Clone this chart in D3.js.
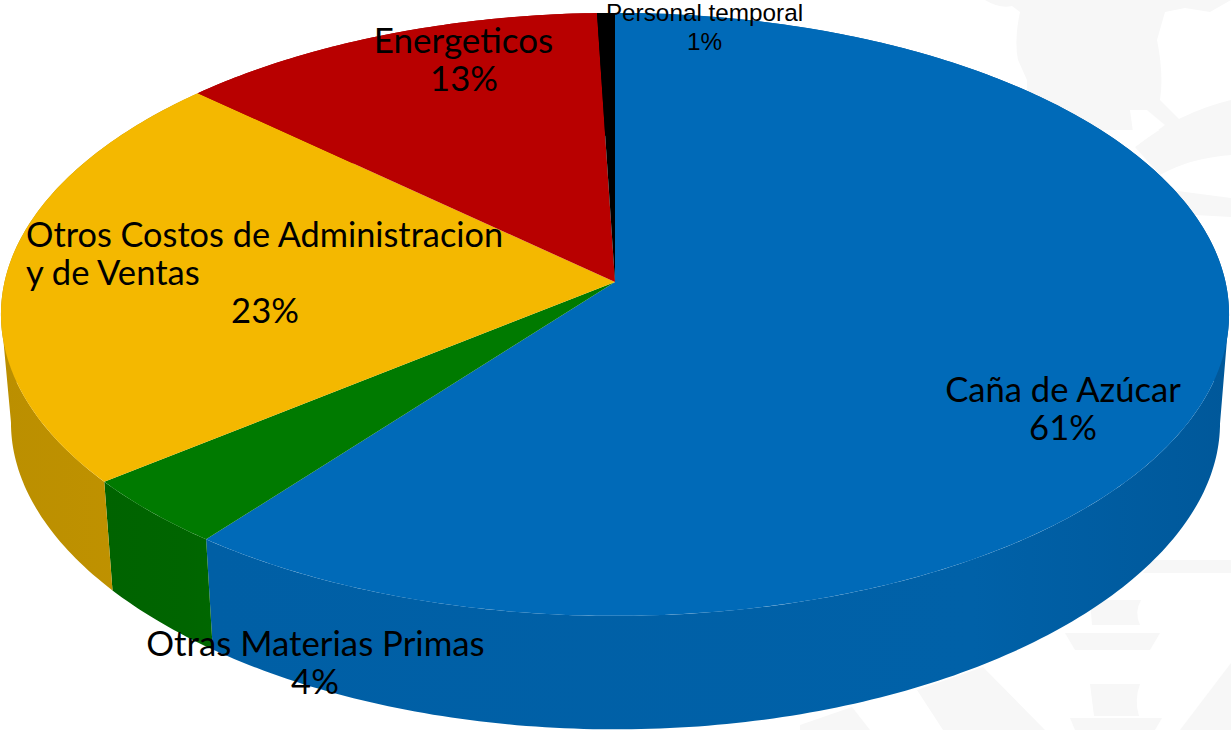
<!DOCTYPE html>
<html><head><meta charset="utf-8">
<script src="https://cdnjs.cloudflare.com/ajax/libs/d3/7.8.5/d3.min.js"></script>
<style>html,body{margin:0;background:#fff}svg{display:block}</style></head>
<body><svg id="c" width="1231" height="730"></svg>
<script>
const categories = ["Caña de Azúcar","Otras Materias Primas","Otros Costos de Administracion y de Ventas","Energeticos","Personal temporal"];
const shares = [60.5,3.75,22.65,12.58,0.52];
const percentLabels = ["61%","4%","23%","13%","1%"];
const topColors = ["#006ab8","#007a00","#f4b800","#b80000","#000000"];
const wallLeft  = ["#005fa5","#006300","#bb8f00","#a00000","#000000"];
const wallMid   = ["#0061a8","#006500","#c09200","#a00000","#000000"];
const wallRight = ["#00589a","#006700","#c89800","#a00000","#000000"];

const svg = d3.select("#c");
const defs = svg.append("defs");
const top3d = {x0:615,y0:282,Rx:610.5,Ry:298,kx:.1074,ky:.1074};
const bot3d = {x0:615.5,y0:391,Rx:601,Ry:291,kx:.108,ky:.14};
const proj = (p,a)=>{const u=Math.sin(a),v=-Math.cos(a);return [p.x0+p.Rx*u/(1-p.kx*v),p.y0+p.Ry*v/(1-p.ky*v)];};
const pie = d3.pie().sort(null).value(d=>d)(shares);
const line = d3.line();
const arcPts=(p,d,n)=>d3.range(n+1).map(i=>proj(p,d.startAngle+(d.endAngle-d.startAngle)*i/n));

// faint watermark behind the pie
const wm = svg.append("g").attr("fill","#f7f7f7");
[
 "M985 0 Q1000 9 1012 6 L1020 12 Q1014 40 1018 60 L1027 80 L1027 130 L1165 130 L1185 125 L1160 100 Q1164 75 1157 40 L1165 12 L1185 8 L1210 12 L1231 0 Z",
 "M1135 147 Q1180 112 1231 100 L1231 155 Q1190 158 1160 175 Z",
 "M1170 190 L1231 198 L1231 217 L1195 215 Z",
 "M1153 560 L1231 560 L1231 573 L1143 573 Z",
 "M1090 600 L1141 600 Q1134 612 1140 625 L1092 625 Z",
 "M1065 633 L1160 633 L1150 650 L1075 650 Z",
 "M1090 684 L1140 684 Q1134 700 1139 716 L1094 716 Z",
 "M1070 718 L1162 718 L1155 730 L1075 730 Z",
 "M917 690 L983 667 L1045 730 L943 730 Z",
 "M800 725 L852 707 L870 730 L800 730 Z",
 "M1180 730 L1231 663 L1231 730 Z"
].forEach(d=>wm.append("path").attr("d",d));
svg.append("path").attr("d","M1130 110 L1147 110 L1165 125 L1135 147 Z").attr("fill","#fff");

// side walls: one path per slice, filled by a left-to-right shading
pie.forEach((d,i)=>{
  const n=Math.max(6,Math.ceil((d.endAngle-d.startAngle)*70));
  const t=arcPts(top3d,d,n), b=arcPts(bot3d,d,n);
  const xs=[...t,...b].map(p=>p[0]);
  const g=defs.append("linearGradient").attr("id","w"+i).attr("gradientUnits","userSpaceOnUse")
    .attr("x1",d3.min(xs)).attr("x2",d3.max(xs)).attr("y1",0).attr("y2",0);
  [[0,wallLeft[i]],[.75,wallMid[i]],[1,wallRight[i]]].forEach(s=>g.append("stop").attr("offset",s[0]).attr("stop-color",s[1]));
  const path=d3.range(n).map(j=>{
    const flip=(t[j+1][0]-t[j][0])<0;
    const q=[t[j],t[j+1],b[j+1],b[j]];
    return line(flip?q:q.slice().reverse())+"Z";
  }).join("");
  svg.append("path").attr("d",path).attr("fill",`url(#w${i})`);
});
// top faces
pie.forEach((d,i)=>{
  const n=Math.max(4,Math.ceil((d.endAngle-d.startAngle)*90));
  svg.append("path").attr("d",line([[top3d.x0,top3d.y0],...arcPts(top3d,d,n)])+"Z").attr("fill",topColors[i]);
});
// labels
const fam='Lato, Carlito, sans-serif', arial='"Liberation Sans", Arial, sans-serif';
const T=(s,x,y,size,f,anchor)=>svg.append("text").attr("x",x).attr("y",y).attr("font-size",size).attr("font-family",f).attr("text-anchor",anchor||"middle").attr("fill","#000").text(s);
T(categories[0],1063,402,34.6,fam); T(percentLabels[0],1063,440,34.6,fam);
T(categories[1],315.5,656,34.8,fam); T(percentLabels[1],315,694,34.6,fam);
T("Otros Costos de Administracion",26,247,34.3,fam,"start"); T("y de Ventas",26,285,34.6,fam,"start"); T(percentLabels[2],265,323,34.6,fam);
T(categories[3],463.5,53,35,fam); T(percentLabels[3],464,91,34.6,fam);
T(categories[4],704.5,21,24.3,arial); T(percentLabels[4],704.5,50,24.3,arial);
</script></body></html>
